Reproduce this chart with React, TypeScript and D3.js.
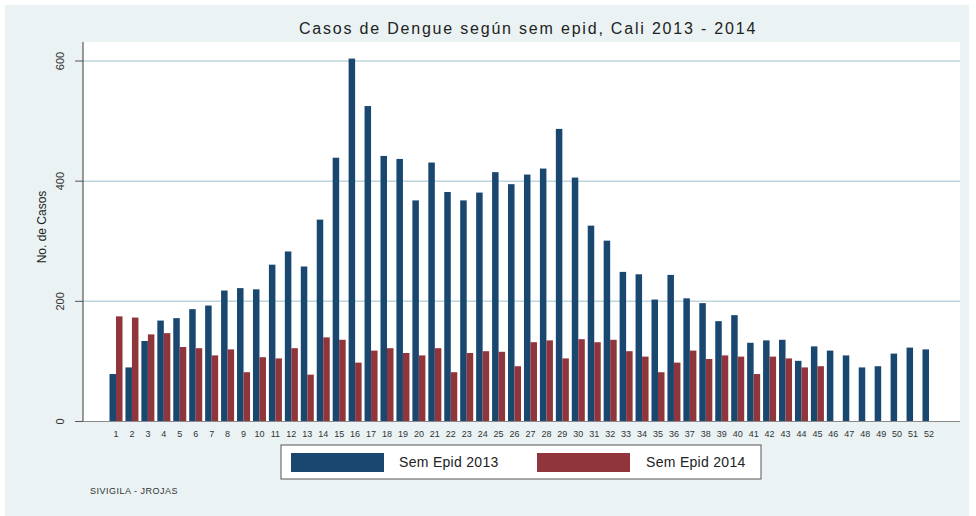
import React from "react";
import * as d3 from "d3";

const weeks: string[] = d3.range(1, 53).map(String);
const series: string[] = ["Sem Epid 2013", "Sem Epid 2014"];
const cases2013: number[] = [
  79, 90, 134, 168, 172, 187, 193, 218, 222, 220,
  261, 283, 258, 336, 439, 604, 525, 442, 437, 368,
  431, 382, 368, 381, 415, 395, 411, 421, 487, 406,
  326, 301, 249, 245, 203, 244, 205, 197, 167, 177,
  131, 135, 136, 101, 125, 118, 110, 90, 92, 113,
  123, 120,
];
const cases2014: number[] = [
  175, 173, 145, 147, 124, 122, 110, 120, 82, 107,
  105, 122, 78, 140, 136, 98, 118, 122, 114, 110,
  122, 82, 114, 117, 116, 92, 132, 135, 105, 137,
  132, 136, 117, 108, 82, 98, 118, 104, 110, 108,
  79, 108, 105, 90, 92,
];
const yTicks: number[] = [0, 200, 400, 600];
const title = "Casos de Dengue según sem epid, Cali 2013 - 2014";
const yLabel = "No. de Casos";
const note = "SIVIGILA  - JROJAS";

const W = 976;
const H = 516;
const colors = ["#1a476f", "#90353b"];
const font = "'Liberation Sans', Arial, sans-serif";

export default function App() {
  const plotL = 83;
  const plotR = 960;
  const plotT = 42;
  const plotB = 421.5;

  const x = d3.scaleBand<string>().domain(weeks).range([109.5, 935.5]).paddingInner(0.184).paddingOuter(0);
  const xs = d3.scaleBand<string>().domain(series).range([0, x.bandwidth()]);
  const y = d3.scaleLinear().domain([0, 600]).range([plotB, 61]);

  const data = [cases2013, cases2014];

  return (
    <svg width={W} height={H} style={{ position: "absolute", left: 0, top: 0 }} fontFamily={font}>
      <rect x={0} y={0} width={W} height={H} fill="#ffffff" />
      <rect x={5} y={5} width={964} height={511} fill="#eaf2f3" />
      <rect x={plotL} y={plotT} width={plotR - plotL} height={plotB - plotT} fill="#ffffff" />
      {yTicks.filter((t) => t > 0).map((t) => (
        <line key={"g" + t} x1={plotL} x2={plotR} y1={y(t)} y2={y(t)} stroke="#bfd5de" strokeWidth={1.5} />
      ))}
      {data.map((vals, si) =>
        vals.map((v, i) => (
          <rect
            key={si + "-" + i}
            x={(x(weeks[i]) as number) + (xs(series[si]) as number)}
            y={y(v)}
            width={xs.bandwidth()}
            height={plotB - y(v)}
            fill={colors[si]}
          />
        ))
      )}
      <line x1={plotL} x2={plotL} y1={plotT} y2={plotB} stroke="#3a3a3a" strokeWidth={1} />
      <line x1={plotL} x2={plotR} y1={plotB} y2={plotB} stroke="#8a8a8a" strokeWidth={1.2} />
      {yTicks.map((t) => (
        <g key={"t" + t}>
          <line x1={75} x2={plotL} y1={y(t)} y2={y(t)} stroke="#555" strokeWidth={1} />
          <text
            transform={`translate(64,${y(t)}) rotate(-90)`}
            textAnchor="middle"
            fontSize={11}
            fill="#333"
          >
            {t}
          </text>
        </g>
      ))}
      <text transform={`translate(46,227) rotate(-90)`} textAnchor="middle" fontSize={12} fill="#222">
        {yLabel}
      </text>
      {weeks.map((w) => (
        <text
          key={"x" + w}
          x={(x(w) as number) + x.bandwidth() / 2}
          y={437}
          textAnchor="middle"
          fontSize={9}
          fill="#333"
        >
          {w}
        </text>
      ))}
      <text x={528} y={34} textAnchor="middle" fontSize={16} fill="#222" letterSpacing={1.8}>
        {title}
      </text>
      <rect x={281} y={445} width={480} height={34} fill="#ffffff" stroke="#555" strokeWidth={1} />
      {series.map((s, si) => (
        <g key={"l" + s}>
          <rect x={291 + si * 246} y={453} width={93} height={19} fill={colors[si]} />
          <text x={399 + si * 247} y={467} fontSize={14} fill="#222" letterSpacing={0.3}>
            {s}
          </text>
        </g>
      ))}
      <text x={90} y={494} fontSize={9} fill="#333" letterSpacing={0.5}>
        {note}
      </text>
    </svg>
  );
}
